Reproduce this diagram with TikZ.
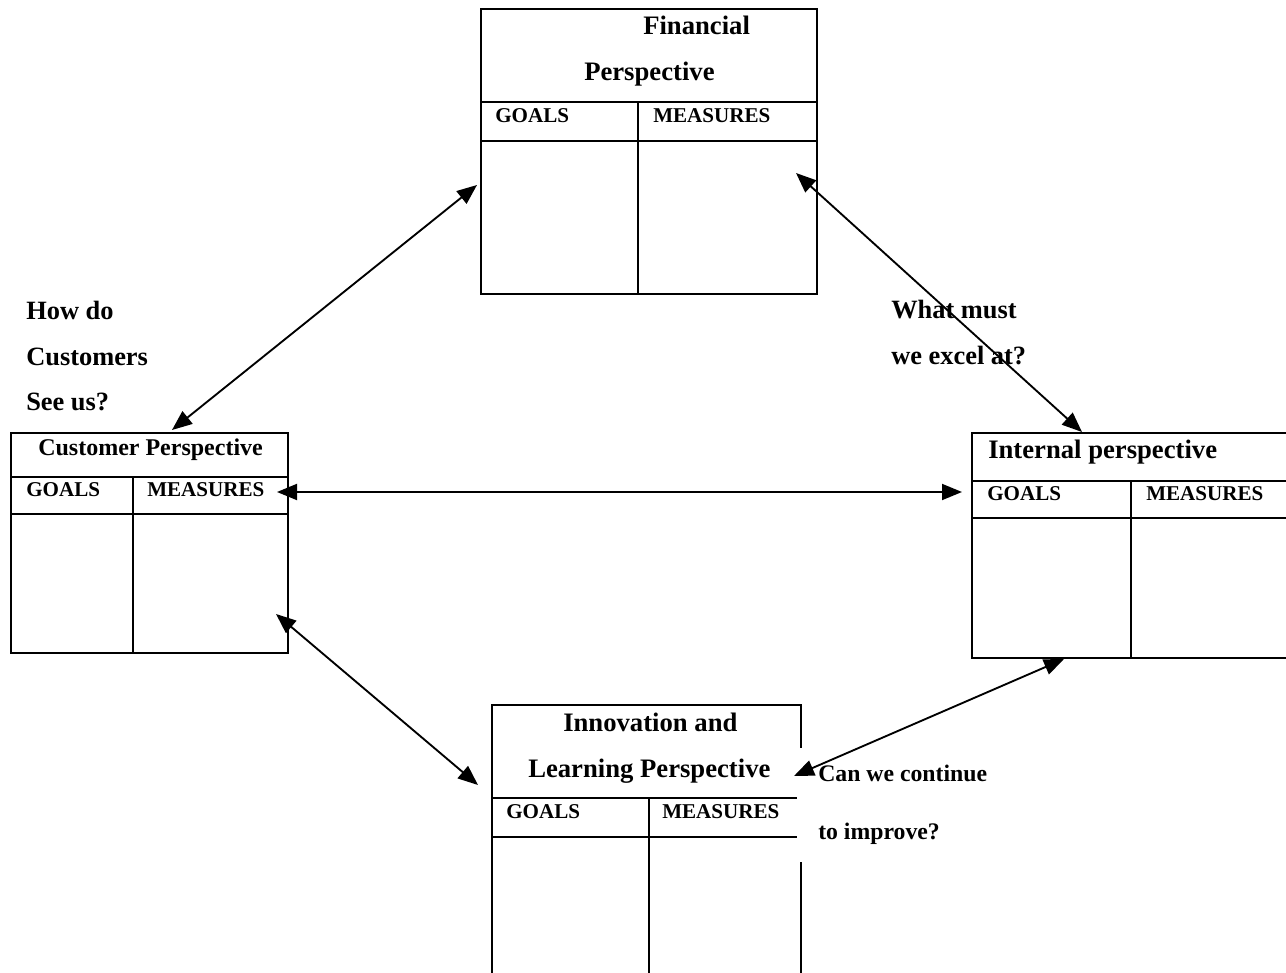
\documentclass[tikz,border=0pt]{standalone}
\usepackage{fontspec}
\setmainfont{Liberation Serif}
\usetikzlibrary{arrows.meta}
\begin{document}
\begin{tikzpicture}[x=0.75pt,y=-0.75pt,
  frame/.style={line width=1.2pt},
  link/.style={line width=1.4pt,
    {Triangle[length=15pt,width=12pt]}-{Triangle[length=15pt,width=12pt]}},
  txt/.style={anchor=base west,inner sep=0pt},
  title/.style={txt,font=\bfseries\fontsize{20pt}{24pt}\selectfont},
  ctitle/.style={txt,font=\bfseries\fontsize{18pt}{22pt}\selectfont},
  head/.style={txt,font=\bfseries\fontsize{15.8pt}{19pt}\selectfont},
  note/.style={txt,font=\bfseries\fontsize{19.8pt}{24pt}\selectfont},
  smallnote/.style={txt,font=\bfseries\fontsize{17.8pt}{21pt}\selectfont}]
\useasboundingbox (0,0) rectangle (1286,973);
\clip (0,0) rectangle (1286,973);

% Financial perspective table
\draw[frame] (481,9) rectangle (817,294);
\draw[frame] (481,102) -- (817,102);
\draw[frame] (481,141) -- (817,141);
\draw[frame] (638,102) -- (638,294);
\node[title] (fin1) at (643,35) {Financial};
\node[title] (fin2) at (584,81) {Perspective};
\node[head] (fing) at (495,123) {GOALS};
\node[head] (finm) at (653,123) {MEASURES};

% Customer perspective table
\draw[frame] (11,433) rectangle (288,653);
\draw[frame] (11,477) -- (288,477);
\draw[frame] (11,514) -- (288,514);
\draw[frame] (133,477) -- (133,653);
\node[ctitle] (cus1) at (38,456) {Customer Perspective};
\node[head] (cusg) at (26,497) {GOALS};
\node[head] (cusm) at (147,497) {MEASURES};

% Internal perspective table
\draw[frame] (972,433) rectangle (1300,658);
\draw[frame] (972,481) -- (1300,481);
\draw[frame] (972,518) -- (1300,518);
\draw[frame] (1131,481) -- (1131,658);
\node[title] (int1) at (988,459) {Internal perspective};
\node[head] (intg) at (987,501) {GOALS};
\node[head] (intm) at (1146,501) {MEASURES};

% Innovation and learning perspective table
\draw[frame] (492,990) -- (492,705) -- (801,705) -- (801,990);
\draw[frame] (492,798) -- (801,798);
\draw[frame] (492,837) -- (801,837);
\draw[frame] (649,798) -- (649,990);
\node[title] (inn1) at (563,731) {Innovation and};
\node[title] (inn2) at (528,777) {Learning Perspective};
\node[head] (inng) at (506,818) {GOALS};
\node[head] (innm) at (662,818) {MEASURES};

% question labels
\node[note] (q1a) at (26,320) {How do};
\node[note] (q1b) at (26,366) {Customers};
\node[note] (q1c) at (26,411) {See us?};
\node[note] (q2a) at (891,319) {What must};
\node[note] (q2b) at (891,365) {we excel at?};
\fill[white] (797,748) rectangle (1000,862);
\node[smallnote] (q3a) at (818,781) {Can we continue};
\node[smallnote] (q3b) at (818,839) {to improve?};

% connector end points
\coordinate (finSW) at (477,185);
\coordinate (finSE) at (796,173);
\coordinate (cusN) at (172,430);
\coordinate (cusE) at (277,492);
\coordinate (cusSE) at (276,614);
\coordinate (intN) at (1082,432);
\coordinate (intW) at (962,492);
\coordinate (intS) at (1064,659);
\coordinate (innW) at (478,785);
\coordinate (innE) at (794,776);

% connectors
\draw[link] (cusN) -- (finSW);
\draw[link] (finSE) -- (intN);
\draw[link] (cusE) -- (intW);
\draw[link] (cusSE) -- (innW);
\draw[link] (innE) -- (intS);
\end{tikzpicture}
\end{document}
